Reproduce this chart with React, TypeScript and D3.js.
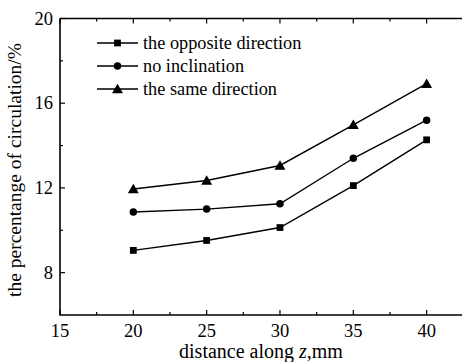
import React from "react";
import * as d3 from "d3";

const distances = [20, 25, 30, 35, 40];
const opposite = [9.05, 9.52, 10.13, 12.11, 14.27];
const noIncline = [10.86, 11.0, 11.25, 13.4, 15.2];
const same = [11.95, 12.35, 13.06, 14.98, 16.92];
const seriesNames = ["the opposite direction", "no inclination", "the same direction"];
const xTicks = [15, 20, 25, 30, 35, 40];
const xMinor = [17.5, 22.5, 27.5, 32.5, 37.5, 42.5];
const yTicks = [8, 12, 16, 20];
const yMinor = [10, 14, 18];

const W = 462;
const H = 362;

const x = d3.scaleLinear().domain([15, 42.5]).range([60, 463.3]);
const y = d3.scaleLinear().domain([6, 20]).range([315, 18.5]);
const line = d3.line<number>().x((_, i) => x(distances[i])).y((d) => y(d));
const symbols = [d3.symbolSquare, d3.symbolCircle, d3.symbolTriangle];
const symSize = [46, 44, 52];
const symOffset = [0, 0, 1];

const txt = (size: number) => ({ fontFamily: "Liberation Serif", fontSize: `${size}px` });

function Marker({ s, cx, cy }: { s: number; cx: number; cy: number }) {
  return (
    <path
      transform={`translate(${cx},${cy + symOffset[s]})`}
      d={d3.symbol().type(symbols[s]).size(symSize[s])() || ""}
      fill="#000"
    />
  );
}

export default function App() {
  const all = [opposite, noIncline, same];
  const x0 = x(15);
  const x1 = x(42.5);
  const yb = y(6);
  const yt = y(20);
  const legY = [43, 66, 89];

  return (
    <svg width={W} height={H} style={{ position: "absolute", left: 0, top: 0, background: "#fff" }}>
      {/* frame lines */}
      <path d={`M${x0},${yt}H${x1}M${x0},${yt}V${yb}H${x1}`} stroke="#000" strokeWidth={1.6} fill="none" />

      {/* x ticks (inward) bottom and top */}
      {xTicks.map((t) => (
        <g key={"xt" + t}>
          <line x1={x(t)} x2={x(t)} y1={yb} y2={yb - 5} stroke="#000" strokeWidth={1.2} />
          <line x1={x(t)} x2={x(t)} y1={yt} y2={yt + 5} stroke="#000" strokeWidth={1.2} />
          <text x={x(t)} y={yb + 22} textAnchor="middle" style={txt(18.5)}>{t}</text>
        </g>
      ))}
      {xMinor.map((t) => (
        <g key={"xm" + t}>
          <line x1={x(t)} x2={x(t)} y1={yb} y2={yb - 3} stroke="#000" strokeWidth={1.2} />
          <line x1={x(t)} x2={x(t)} y1={yt} y2={yt + 3} stroke="#000" strokeWidth={1.2} />
        </g>
      ))}

      {/* y ticks */}
      {yTicks.map((t) => (
        <g key={"yt" + t}>
          <line x1={x0} x2={x0 + 5} y1={y(t)} y2={y(t)} stroke="#000" strokeWidth={1.2} />
          <text x={x0 - 7} y={y(t) + 6} textAnchor="end" style={txt(18.5)}>{t}</text>
        </g>
      ))}
      {yMinor.map((t) => (
        <line key={"ym" + t} x1={x0} x2={x0 + 3} y1={y(t)} y2={y(t)} stroke="#000" strokeWidth={1.2} />
      ))}

      {/* axis titles */}
      <text x={261} y={358} textAnchor="middle" style={txt(20)}>
        distance along <tspan fontStyle="italic">z</tspan>,mm
      </text>
      <text transform="translate(21,170) rotate(-90)" textAnchor="middle" style={txt(19.5)}>
        the percentange of circulation/%
      </text>

      {/* series */}
      {all.map((vals, s) => (
        <g key={"s" + s}>
          <path d={line(vals) || ""} fill="none" stroke="#000" strokeWidth={1.4} />
          {vals.map((v, i) => (
            <Marker key={i} s={s} cx={x(distances[i])} cy={y(v)} />
          ))}
        </g>
      ))}

      {/* legend */}
      {seriesNames.map((name, s) => (
        <g key={name}>
          <line x1={97} x2={138} y1={legY[s]} y2={legY[s]} stroke="#000" strokeWidth={1.4} />
          <Marker s={s} cx={117.5} cy={legY[s]} />
          <text x={143} y={legY[s] + 6} style={txt(18.3)}>{name}</text>
        </g>
      ))}
    </svg>
  );
}
